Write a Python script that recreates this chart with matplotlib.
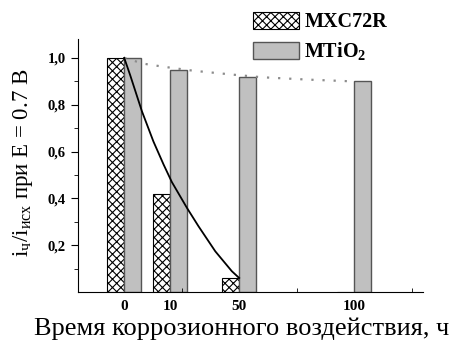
import matplotlib
matplotlib.use("Agg")
import matplotlib.pyplot as plt
import numpy as np

plt.rcParams['font.family'] = ['Liberation Serif', 'DejaVu Serif']
plt.rcParams['mathtext.fontset'] = 'custom'
plt.rcParams['mathtext.rm'] = 'Liberation Serif'
plt.rcParams['mathtext.it'] = 'Liberation Serif:italic'
plt.rcParams['mathtext.bf'] = 'Liberation Serif:bold'
plt.rcParams['hatch.linewidth'] = 0.8

# data
hours = ["0", "10", "50", "100"]
pos = [0, 2, 5, 10]             # spacing on the original axis
mxc72r = [1.0, 0.42, 0.06, 0.0]
mtio2 = [1.0, 0.95, 0.92, 0.90]

# fit curves
fit_mxc_x = [0, 0.26, 0.77, 1.27, 1.71, 2.07, 2.73, 3.23, 3.96, 4.68, 5.0]
fit_mxc_y = [1.0, 0.926, 0.772, 0.643, 0.545, 0.47, 0.359, 0.281, 0.174, 0.089, 0.06]
fit_ti_x = [0, 0.4, 0.84, 1.71, 3.0, 4.75, 6.0, 8.0, 9.8]
fit_ti_y = [1.0, 0.988, 0.975, 0.962, 0.945, 0.928, 0.917, 0.907, 0.90]

fig = plt.figure(figsize=(4.6, 3.4), dpi=100)
ax = fig.add_axes([0.170, 0.141, 0.750, 0.744])

w = 0.75
x = np.array(pos)
ax.bar(x - w, mxc72r, w, align='edge', color='white', edgecolor='black',
       hatch='xxxx', linewidth=0.8, label='MXC72R')
ax.bar(x, mtio2, w, align='edge', color='#c0c0c0', edgecolor='#555555',
       linewidth=1.0, label=r'MTiO$_\mathbf{2}$')

ax.plot(fit_ti_x, fit_ti_y, color='#8c8c8c', linestyle=(0, (1, 4)), linewidth=1.6)
ax.plot(fit_mxc_x, fit_mxc_y, color='black', linewidth=1.3)

ax.set_xlim(-2, 13)
ax.set_ylim(0, 1.08)
ax.spines[["right", "top"]].set_visible(False)

ax.set_xticks(pos)
ax.set_xticklabels(hours, fontweight='bold', fontsize=11)
ax.set_xticks([2.5, 7.5, 12.5], minor=True)
ax.tick_params(axis='x', which='major', length=0, pad=6)
ax.tick_params(axis='x', which='minor', direction='in', length=3)

ax.set_yticks([0.2, 0.4, 0.6, 0.8, 1.0])
ax.set_yticklabels(["0,2", "0,4", "0,6", "0,8", "1,0"], fontweight='bold', fontsize=10.5)
ax.set_yticks([0.1, 0.3, 0.5, 0.7, 0.9], minor=True)
ax.tick_params(axis='y', which='major', length=5, pad=4)
ax.tick_params(axis='y', which='minor', length=3)

fig.text(241.5/460, 1 - 329/340, "Время коррозионного воздействия, ч",
         ha='center', va='center', fontsize=19)
fig.text(23/460, 1 - 163/340,
         r"i$_\mathregular{ч}$/i$_\mathregular{исх}$ при E = 0.7 В",
         ha='center', va='center', rotation=90, fontsize=16.5)

fig.legend(loc='upper left', bbox_to_anchor=(253/460, 1 - 12/340),
           frameon=False, borderpad=0, borderaxespad=0, handlelength=2.3,
           handleheight=0.9, handletextpad=0.25, labelspacing=0.4,
           prop={'weight': 'bold', 'size': 14.5})

fig.savefig("out.png", dpi=100)
